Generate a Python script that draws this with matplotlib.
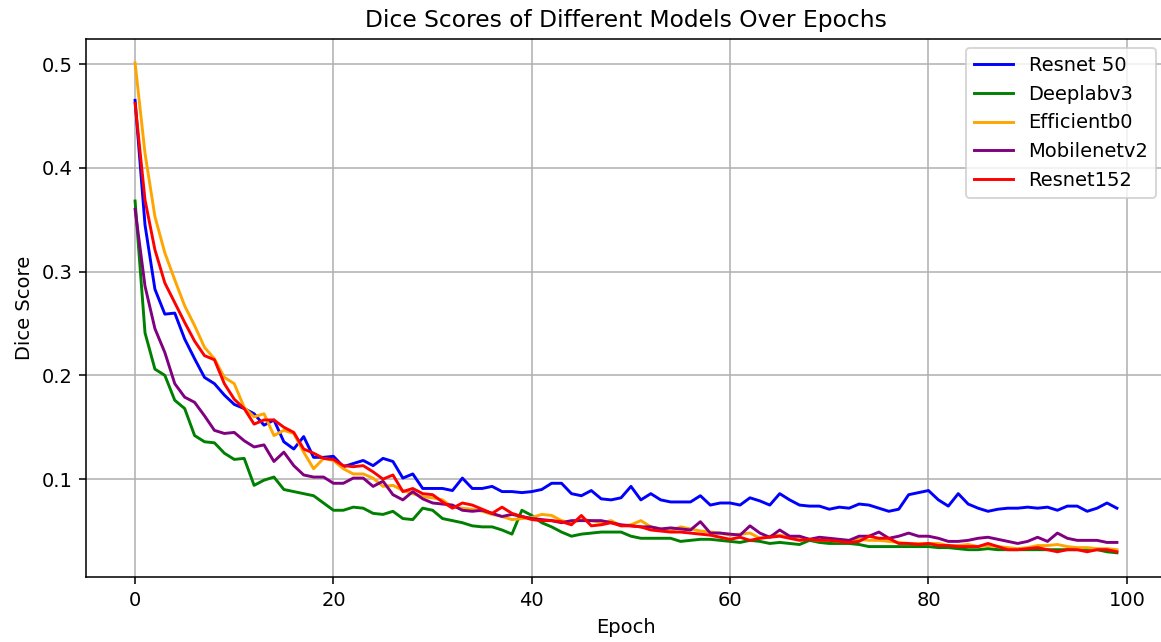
import matplotlib
matplotlib.use("Agg")
import matplotlib.pyplot as plt

epochs = list(range(100))

resnet50 = [0.465, 0.345, 0.283, 0.259, 0.260, 0.235, 0.216, 0.198, 0.192, 0.181,
            0.172, 0.168, 0.163, 0.152, 0.157, 0.136, 0.129, 0.141, 0.121, 0.121,
            0.122, 0.112, 0.115, 0.118, 0.113, 0.120, 0.117, 0.101, 0.105, 0.091,
            0.091, 0.091, 0.089, 0.101, 0.091, 0.091, 0.093, 0.088, 0.088, 0.087,
            0.088, 0.090, 0.096, 0.096, 0.086, 0.084, 0.089, 0.081, 0.080, 0.082,
            0.093, 0.080, 0.086, 0.080, 0.078, 0.078, 0.078, 0.084, 0.075, 0.077,
            0.077, 0.075, 0.082, 0.079, 0.075, 0.086, 0.080, 0.075, 0.074, 0.074,
            0.071, 0.073, 0.072, 0.076, 0.075, 0.072, 0.069, 0.071, 0.085, 0.087,
            0.089, 0.080, 0.074, 0.086, 0.076, 0.072, 0.069, 0.071, 0.072, 0.072,
            0.073, 0.072, 0.073, 0.070, 0.074, 0.074, 0.069, 0.072, 0.077, 0.072]

deeplabv3 = [0.368, 0.241, 0.206, 0.200, 0.176, 0.168, 0.142, 0.136, 0.135, 0.125,
             0.119, 0.120, 0.094, 0.099, 0.102, 0.090, 0.088, 0.086, 0.084, 0.077,
             0.070, 0.070, 0.073, 0.072, 0.067, 0.066, 0.069, 0.062, 0.061, 0.072,
             0.070, 0.062, 0.060, 0.058, 0.055, 0.054, 0.054, 0.051, 0.047, 0.070,
             0.065, 0.058, 0.054, 0.049, 0.045, 0.047, 0.048, 0.049, 0.049, 0.049,
             0.045, 0.043, 0.043, 0.043, 0.043, 0.040, 0.041, 0.042, 0.042, 0.041,
             0.040, 0.039, 0.041, 0.040, 0.038, 0.039, 0.038, 0.037, 0.041, 0.039,
             0.038, 0.038, 0.038, 0.037, 0.035, 0.035, 0.035, 0.035, 0.035, 0.035,
             0.035, 0.034, 0.034, 0.033, 0.032, 0.032, 0.033, 0.032, 0.032, 0.032,
             0.032, 0.032, 0.032, 0.032, 0.032, 0.032, 0.032, 0.032, 0.030, 0.029]

efficientb0 = [0.501, 0.414, 0.353, 0.318, 0.292, 0.267, 0.248, 0.227, 0.216, 0.198,
               0.192, 0.169, 0.160, 0.163, 0.142, 0.147, 0.144, 0.126, 0.110, 0.120,
               0.118, 0.110, 0.105, 0.105, 0.101, 0.093, 0.094, 0.089, 0.086, 0.083,
               0.082, 0.080, 0.073, 0.072, 0.071, 0.069, 0.066, 0.064, 0.061, 0.062,
               0.063, 0.066, 0.065, 0.060, 0.058, 0.061, 0.060, 0.058, 0.060, 0.055,
               0.056, 0.060, 0.054, 0.052, 0.050, 0.054, 0.052, 0.050, 0.049, 0.048,
               0.046, 0.047, 0.048, 0.043, 0.045, 0.046, 0.044, 0.044, 0.042, 0.041,
               0.041, 0.040, 0.041, 0.042, 0.041, 0.041, 0.040, 0.039, 0.038, 0.038,
               0.038, 0.038, 0.036, 0.036, 0.037, 0.035, 0.036, 0.035, 0.034, 0.033,
               0.034, 0.036, 0.036, 0.037, 0.035, 0.034, 0.034, 0.033, 0.033, 0.032]

mobilenetv2 = [0.360, 0.286, 0.245, 0.222, 0.192, 0.179, 0.174, 0.161, 0.147, 0.144,
               0.145, 0.137, 0.131, 0.133, 0.117, 0.126, 0.113, 0.104, 0.102, 0.102,
               0.096, 0.096, 0.101, 0.101, 0.093, 0.098, 0.085, 0.080, 0.088, 0.081,
               0.077, 0.076, 0.075, 0.070, 0.069, 0.070, 0.067, 0.064, 0.066, 0.064,
               0.062, 0.061, 0.060, 0.058, 0.060, 0.060, 0.060, 0.060, 0.058, 0.056,
               0.055, 0.054, 0.054, 0.052, 0.053, 0.052, 0.051, 0.059, 0.048, 0.048,
               0.047, 0.046, 0.055, 0.048, 0.044, 0.051, 0.045, 0.045, 0.042, 0.044,
               0.043, 0.042, 0.041, 0.045, 0.045, 0.049, 0.043, 0.045, 0.048, 0.045,
               0.045, 0.043, 0.040, 0.040, 0.041, 0.043, 0.044, 0.042, 0.040, 0.038,
               0.040, 0.044, 0.040, 0.048, 0.043, 0.041, 0.041, 0.041, 0.039, 0.039]

resnet152 = [0.462, 0.369, 0.321, 0.289, 0.270, 0.251, 0.233, 0.219, 0.215, 0.192,
             0.177, 0.168, 0.153, 0.157, 0.157, 0.150, 0.145, 0.129, 0.125, 0.120,
             0.119, 0.113, 0.112, 0.113, 0.107, 0.100, 0.104, 0.088, 0.091, 0.086,
             0.085, 0.078, 0.072, 0.077, 0.075, 0.071, 0.067, 0.073, 0.067, 0.064,
             0.061, 0.060, 0.060, 0.059, 0.056, 0.065, 0.055, 0.056, 0.058, 0.055,
             0.055, 0.054, 0.051, 0.050, 0.049, 0.049, 0.048, 0.047, 0.046, 0.044,
             0.042, 0.044, 0.041, 0.043, 0.044, 0.045, 0.043, 0.041, 0.042, 0.041,
             0.041, 0.040, 0.039, 0.040, 0.045, 0.043, 0.043, 0.038, 0.038, 0.037,
             0.038, 0.036, 0.036, 0.035, 0.035, 0.035, 0.038, 0.035, 0.032, 0.032,
             0.033, 0.034, 0.032, 0.030, 0.032, 0.032, 0.030, 0.032, 0.032, 0.030]

series_names = ["Resnet 50", "Deeplabv3", "Efficientb0", "Mobilenetv2", "Resnet152"]
series_values = [resnet50, deeplabv3, efficientb0, mobilenetv2, resnet152]
series_colors = ["blue", "green", "orange", "purple", "red"]

DPI = 140
W, H = 1161, 642
fig = plt.figure(figsize=(W / DPI, H / DPI), dpi=DPI)
# axes box in pixels: left 86, right 1166 (slightly beyond the image edge), top 38.5, bottom 577.3
ax = fig.add_axes([86 / W, (H - 577.3) / H, 1080 / W, (577.3 - 38.5) / H])
for name, vals, col in zip(series_names, series_values, series_colors):
    ax.plot(epochs, vals, color=col, label=name)

ax.set_title("Dice Scores of Different Models Over Epochs", fontsize=12)
ax.set_xlabel("Epoch")
ax.set_ylabel("Dice Score")
ax.grid(True)
ax.legend(loc="upper right")
fig.savefig("out.png", dpi=DPI)
